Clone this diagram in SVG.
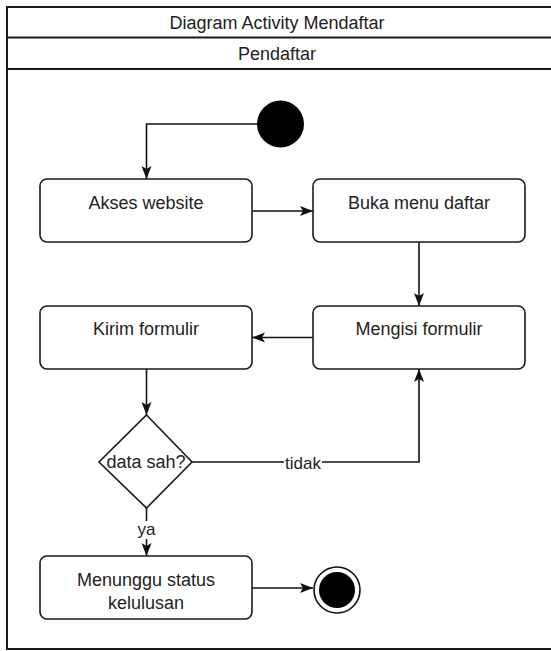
<svg xmlns="http://www.w3.org/2000/svg" width="551" height="651" viewBox="0 0 551 651">
<defs>
<style>
.frame{fill:#fff;stroke:#1a1a1a;stroke-width:2}
.box{fill:#fff;stroke:#1a1a1a;stroke-width:1.6}
.edge{fill:none;stroke:#111;stroke-width:1.6}
.t{font-family:"Liberation Sans",Arial,sans-serif;font-size:18px;fill:#222;text-anchor:middle}
.lbl{font-family:"Liberation Sans",Arial,sans-serif;font-size:17px;fill:#222;text-anchor:middle}
</style>
<marker id="arr" markerUnits="userSpaceOnUse" markerWidth="14" markerHeight="12" refX="13" refY="5" orient="auto">
<path d="M0,0 L13,5 L0,10 L3,5 Z" fill="#111"/>
</marker>
</defs>
<rect width="551" height="651" fill="#fff"/>
<g id="pool">
<rect class="frame" x="7" y="7" width="548" height="642"/>
<line x1="7" y1="37.5" x2="555" y2="37.5" stroke="#1a1a1a" stroke-width="2"/>
<line x1="7" y1="69" x2="555" y2="69" stroke="#1a1a1a" stroke-width="2"/>
<text class="t" x="277" y="29">Diagram Activity Mendaftar</text>
<text class="t" x="277" y="60">Pendaftar</text>
</g>
<g id="connectors">
<path class="edge" d="M258,124 H146.5 V179" marker-end="url(#arr)"/>
<path class="edge" d="M252,211 H313" marker-end="url(#arr)"/>
<path class="edge" d="M419,242 V306" marker-end="url(#arr)"/>
<path class="edge" d="M313,337.5 H252" marker-end="url(#arr)"/>
<path class="edge" d="M146.5,369 V415" marker-end="url(#arr)"/>
<path class="edge" d="M192,462 H419 V369" marker-end="url(#arr)"/>
<path class="edge" d="M146.5,508 V556" marker-end="url(#arr)"/>
<path class="edge" d="M252,588 H313" marker-end="url(#arr)"/>
<rect x="284" y="454" width="38" height="18" fill="#fff"/>
<text class="lbl" x="303" y="469">tidak</text>
<rect x="136" y="521" width="21" height="18" fill="#fff"/>
<text class="lbl" x="146.5" y="535">ya</text>
</g>
<g id="start">
<circle cx="280.5" cy="124" r="23.5" fill="#000"/>
</g>
<g id="akses">
<rect class="box" x="40" y="179" width="212" height="63" rx="7"/>
<text class="t" x="146" y="209">Akses website</text>
</g>
<g id="buka">
<rect class="box" x="313" y="179" width="212" height="63" rx="7"/>
<text class="t" x="419" y="209">Buka menu daftar</text>
</g>
<g id="mengisi">
<rect class="box" x="313" y="306" width="212" height="63" rx="7"/>
<text class="t" x="419" y="335">Mengisi formulir</text>
</g>
<g id="kirim">
<rect class="box" x="40" y="306" width="212" height="63" rx="7"/>
<text class="t" x="146" y="335">Kirim formulir</text>
</g>
<g id="decision">
<polygon class="box" points="146.5,415 192,462 146.5,508 99,462"/>
<text class="t" x="146" y="468">data sah?</text>
</g>
<g id="menunggu">
<rect class="box" x="40" y="556" width="212" height="63" rx="7"/>
<text class="t" x="146" y="586">Menunggu status</text>
<text class="t" x="146" y="609">kelulusan</text>
</g>
<g id="end">
<circle cx="337" cy="590" r="23" fill="#fff" stroke="#111" stroke-width="1.6"/>
<circle cx="337" cy="590" r="18" fill="#000"/>
</g>
</svg>
